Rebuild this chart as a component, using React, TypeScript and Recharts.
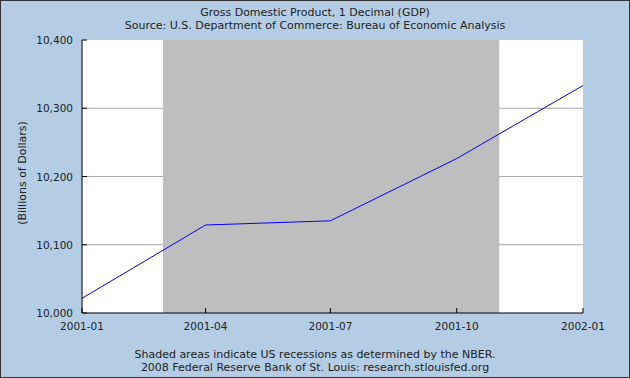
import { CartesianGrid, Line, LineChart, ReferenceArea, XAxis, YAxis } from 'recharts'

// quarterly GDP, billions of dollars
const quarterDates = ['2001-01-01', '2001-04-01', '2001-07-01', '2001-10-01', '2002-01-01']
const gdpValues = [10021.5, 10128.9, 10135.1, 10226.3, 10333.3]

const xTickLabels = ['2001-01', '2001-04', '2001-07', '2001-10', '2002-01']
const yTicks = [10000, 10100, 10200, 10300, 10400]
const gridValues = [10100, 10200, 10300]

// NBER recession shading
const recessionStart = '2001-03-01'
const recessionEnd = '2001-11-01'

const toTime = (d: string) => Date.parse(d + 'T00:00:00Z')

const data = quarterDates.map((d, i) => ({ date: toTime(d), gdp: gdpValues[i] }))
const xTicks = xTickLabels.map((l) => toTime(l + '-01'))

const font = '"DejaVu Sans", Verdana, sans-serif'
const textColor = '#222'
const bg = '#B4CDE4'

function YTick(props: any) {
  const { x, y, payload } = props
  return (
    <g>
      <line x1={x} x2={x + 5} y1={y} y2={y} stroke="#000" />
      <text x={x - 9} y={y + 4} textAnchor="end" fontSize={10.5} fontFamily={font} fill={textColor}>
        {payload.value.toLocaleString('en-US')}
      </text>
    </g>
  )
}

function XTick(props: any) {
  const { x, y, payload } = props
  return (
    <g>
      <line x1={x} x2={x} y1={y - 5} y2={y} stroke="#000" />
      <text x={x} y={y + 16.5} textAnchor="middle" fontSize={10.5} fontFamily={font} fill={textColor}>
        {new Date(payload.value).toISOString().slice(0, 7)}
      </text>
    </g>
  )
}

export default function App() {
  return (
    <div style={{ position: 'absolute', left: 0, top: 0, width: 630, height: 378, background: bg, fontFamily: font, color: textColor }}>
      <div style={{ position: 'absolute', top: 5.5, left: 0, width: 630, textAlign: 'center', fontSize: 11, lineHeight: '13px' }}>
        <div>Gross Domestic Product, 1 Decimal (GDP)</div>
        <div>Source: U.S. Department of Commerce: Bureau of Economic Analysis</div>
      </div>

      <div
        style={{
          position: 'absolute',
          left: 22,
          top: 172.5,
          transform: 'translate(-50%, -50%) rotate(-90deg)',
          whiteSpace: 'nowrap',
          fontSize: 11,
        }}
      >
        (Billions of Dollars)
      </div>

      <LineChart width={630} height={378} data={data} margin={{ top: 40, right: 47, bottom: 35, left: 22 }}>
        <CartesianGrid vertical={false} horizontalValues={gridValues} stroke="#A8A8A8" fill="#FFFFFF" />
        <ReferenceArea x1={toTime(recessionStart)} x2={toTime(recessionEnd)} fill="#BEBEBE" fillOpacity={1} stroke="none" />
        <XAxis
          dataKey="date"
          type="number"
          scale="time"
          domain={[xTicks[0], xTicks[xTicks.length - 1]]}
          ticks={xTicks}
          height={30}
          tickSize={0}
          tickMargin={0}
          tickLine={false}
          axisLine={{ stroke: '#000' }}
          tick={<XTick />}
          interval={0}
        />
        <YAxis
          domain={[yTicks[0], yTicks[yTicks.length - 1]]}
          ticks={yTicks}
          width={60}
          tickSize={0}
          tickMargin={0}
          tickLine={false}
          axisLine={{ stroke: '#000' }}
          tick={<YTick />}
          interval={0}
        />
        <Line type="linear" dataKey="gdp" stroke="#0000FF" strokeWidth={1} dot={false} isAnimationActive={false} />
      </LineChart>

      <div style={{ position: 'absolute', top: 347.5, left: 0, width: 630, textAlign: 'center', fontSize: 11, lineHeight: '13px' }}>
        <div>Shaded areas indicate US recessions as determined by the NBER.</div>
        <div>2008 Federal Reserve Bank of St. Louis: research.stlouisfed.org</div>
      </div>

      <div style={{ position: 'absolute', left: 0, top: 0, width: 630, height: 378, boxSizing: 'border-box', border: '1px solid #333', pointerEvents: 'none' }} />
    </div>
  )
}
